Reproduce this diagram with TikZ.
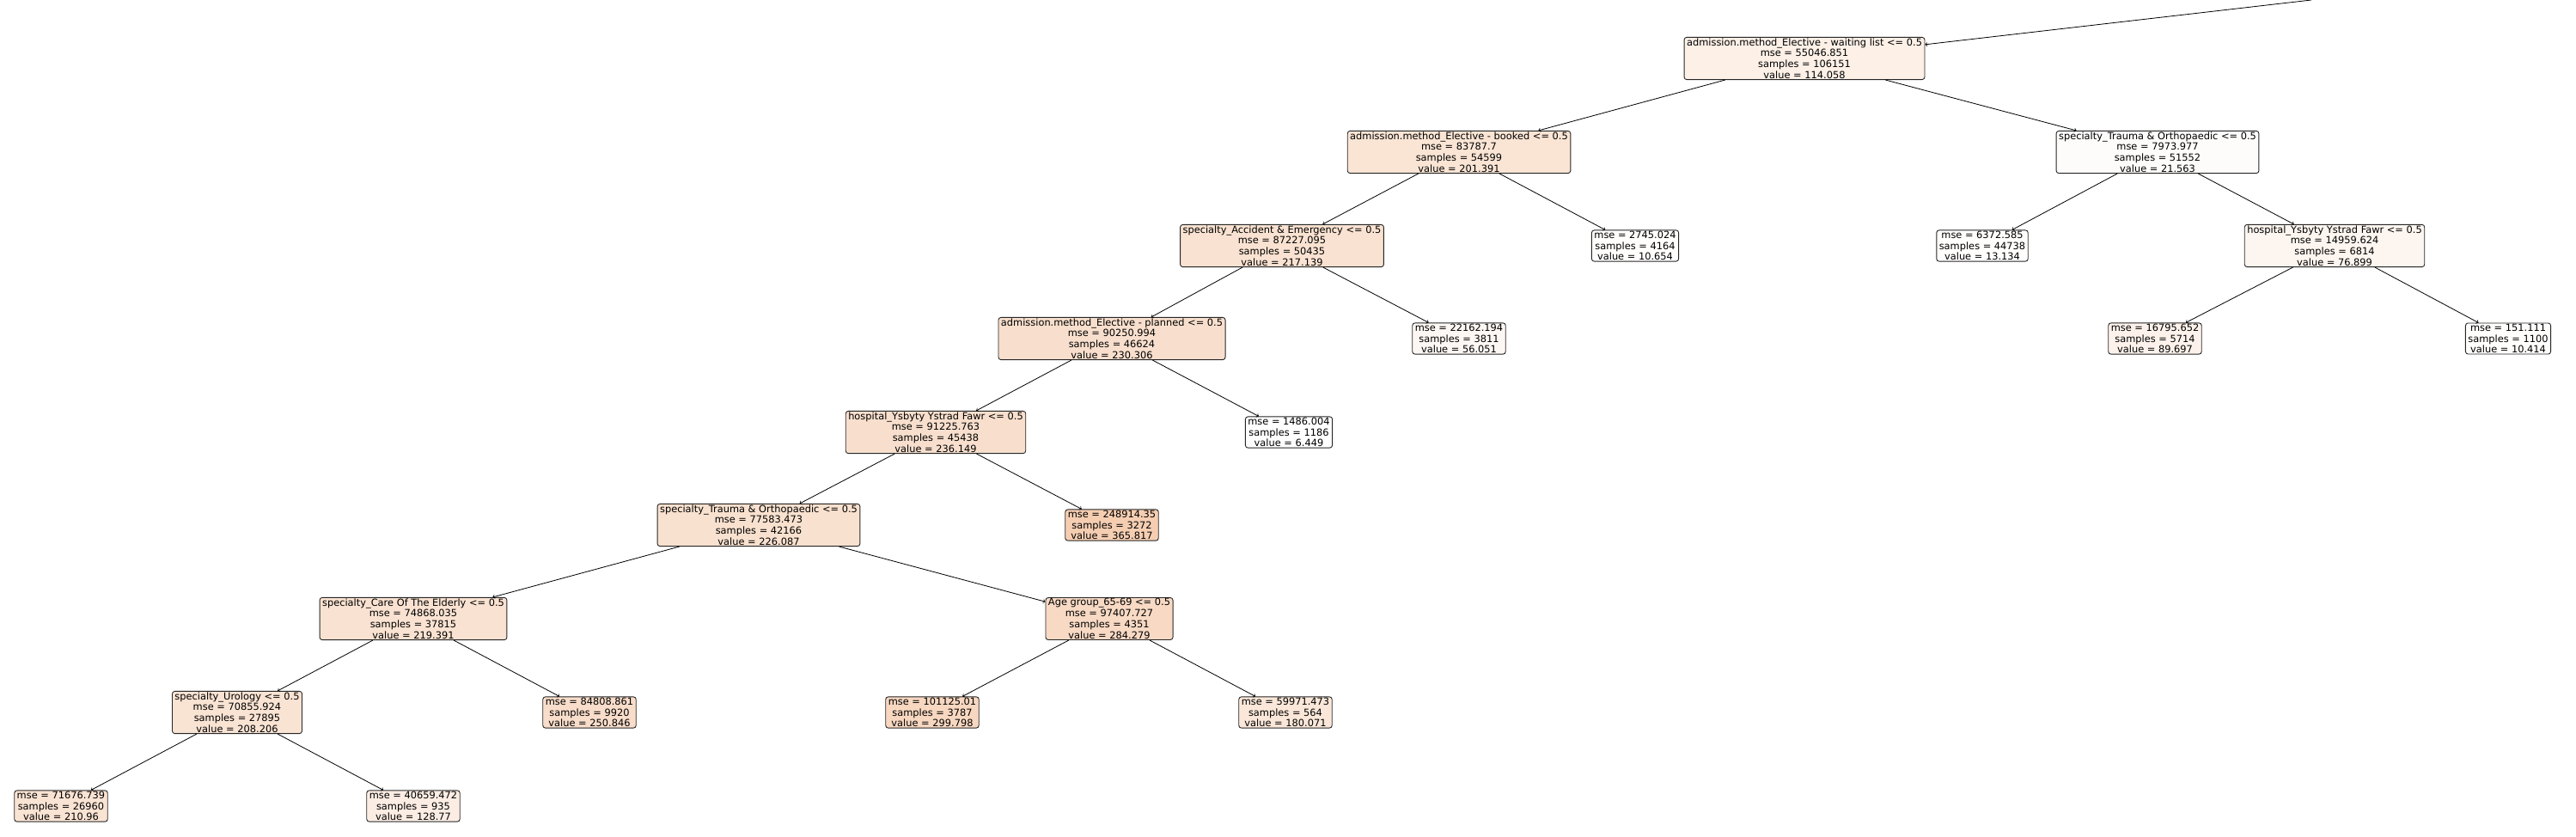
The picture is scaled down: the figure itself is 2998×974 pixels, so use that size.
\documentclass[tikz,border=0pt]{standalone}
\usepackage{fontspec}
\setmainfont{DejaVu Sans}
\usepackage{tikz}
\definecolor{nodeorange}{HTML}{E58139}

\begin{document}
\begin{tikzpicture}[x=1pt,y=-1pt,
        treenode/.style={draw=black!85,line width=0.9pt,rounded corners=3pt,align=center,
            inner xsep=3pt,inner ysep=1pt,font=\fontsize{11.4}{12.8}\selectfont},
        branch/.style={->,line width=0.8pt}]
        \useasboundingbox (0,0) rectangle (2998,974);
        \coordinate (parent) at (2690,0);
        \node[treenode,fill=nodeorange!12] (waitlist) at (2100,68) {admission.method\_Elective - waiting list <= 0.5\\mse = 55046.851\\samples = 106151\\value = 114.058};
        \node[treenode,fill=nodeorange!21] (booked) at (1698,177) {admission.method\_Elective - booked <= 0.5\\mse = 83787.7\\samples = 54599\\value = 201.391};
        \node[treenode,fill=nodeorange!2] (traumaR) at (2511,177) {specialty\_Trauma \& Orthopaedic <= 0.5\\mse = 7973.977\\samples = 51552\\value = 21.563};
        \node[treenode,fill=nodeorange!23] (accident) at (1492,286) {specialty\_Accident \& Emergency <= 0.5\\mse = 87227.095\\samples = 50435\\value = 217.139};
        \node[treenode,fill=nodeorange!1] (leafbooked) at (1903,286) {mse = 2745.024\\samples = 4164\\value = 10.654};
        \node[treenode,fill=nodeorange!1] (leaftraumaR) at (2307,286) {mse = 6372.585\\samples = 44738\\value = 13.134};
        \node[treenode,fill=nodeorange!8] (hospR) at (2717,286) {hospital\_Ysbyty Ystrad Fawr <= 0.5\\mse = 14959.624\\samples = 6814\\value = 76.899};
        \node[treenode,fill=nodeorange!25] (planned) at (1294,394) {admission.method\_Elective - planned <= 0.5\\mse = 90250.994\\samples = 46624\\value = 230.306};
        \node[treenode,fill=nodeorange!6] (leafaccident) at (1698,394) {mse = 22162.194\\samples = 3811\\value = 56.051};
        \node[treenode,fill=nodeorange!10] (leafhospRa) at (2508,394) {mse = 16795.652\\samples = 5714\\value = 89.697};
        \node[treenode,fill=nodeorange!1] (leafhospRb) at (2919,394) {mse = 151.111\\samples = 1100\\value = 10.414};
        \node[treenode,fill=nodeorange!25] (hospL) at (1089,503) {hospital\_Ysbyty Ystrad Fawr <= 0.5\\mse = 91225.763\\samples = 45438\\value = 236.149};
        \node[treenode,fill=nodeorange!0.7] (leafplanned) at (1500,503) {mse = 1486.004\\samples = 1186\\value = 6.449};
        \node[treenode,fill=nodeorange!24] (traumaL) at (883,611) {specialty\_Trauma \& Orthopaedic <= 0.5\\mse = 77583.473\\samples = 42166\\value = 226.087};
        \node[treenode,fill=nodeorange!39] (leafhospL) at (1294,611) {mse = 248914.35\\samples = 3272\\value = 365.817};
        \node[treenode,fill=nodeorange!23] (elderly) at (481,720) {specialty\_Care Of The Elderly <= 0.5\\mse = 74868.035\\samples = 37815\\value = 219.391};
        \node[treenode,fill=nodeorange!30] (agegroup) at (1291,720) {Age group\_65-69 <= 0.5\\mse = 97407.727\\samples = 4351\\value = 284.279};
        \node[treenode,fill=nodeorange!22] (urology) at (276,829) {specialty\_Urology <= 0.5\\mse = 70855.924\\samples = 27895\\value = 208.206};
        \node[treenode,fill=nodeorange!27] (leafelderly) at (686,829) {mse = 84808.861\\samples = 9920\\value = 250.846};
        \node[treenode,fill=nodeorange!32] (leafagea) at (1085,829) {mse = 101125.01\\samples = 3787\\value = 299.798};
        \node[treenode,fill=nodeorange!19] (leafageb) at (1496,829) {mse = 59971.473\\samples = 564\\value = 180.071};
        \node[treenode,fill=nodeorange!22] (leafurologya) at (71,938) {mse = 71676.739\\samples = 26960\\value = 210.96};
        \node[treenode,fill=nodeorange!14] (leafurologyb) at (481,938) {mse = 40659.472\\samples = 935\\value = 128.77};
        \draw[branch] (parent) -- (waitlist);
        \draw[branch] (waitlist) -- (booked);
        \draw[branch] (waitlist) -- (traumaR);
        \draw[branch] (booked) -- (accident);
        \draw[branch] (booked) -- (leafbooked);
        \draw[branch] (traumaR) -- (leaftraumaR);
        \draw[branch] (traumaR) -- (hospR);
        \draw[branch] (accident) -- (planned);
        \draw[branch] (accident) -- (leafaccident);
        \draw[branch] (hospR) -- (leafhospRa);
        \draw[branch] (hospR) -- (leafhospRb);
        \draw[branch] (planned) -- (hospL);
        \draw[branch] (planned) -- (leafplanned);
        \draw[branch] (hospL) -- (traumaL);
        \draw[branch] (hospL) -- (leafhospL);
        \draw[branch] (traumaL) -- (elderly);
        \draw[branch] (traumaL) -- (agegroup);
        \draw[branch] (elderly) -- (urology);
        \draw[branch] (elderly) -- (leafelderly);
        \draw[branch] (agegroup) -- (leafagea);
        \draw[branch] (agegroup) -- (leafageb);
        \draw[branch] (urology) -- (leafurologya);
        \draw[branch] (urology) -- (leafurologyb);
    \end{tikzpicture}
\end{document}
